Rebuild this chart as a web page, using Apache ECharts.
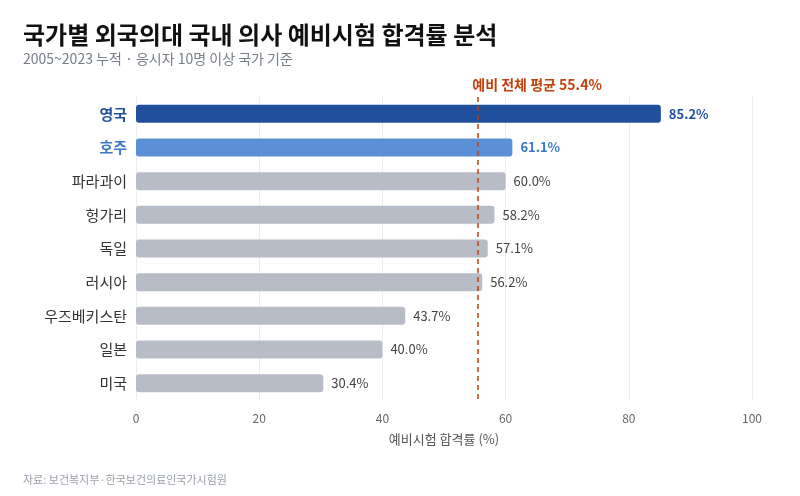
<!DOCTYPE html>
<html>
<head>
<meta charset="utf-8">
<script src="https://cdn.jsdelivr.net/npm/echarts@6/dist/echarts.min.js"></script>
<style>
  html, body { margin: 0; padding: 0; background: #fff; }
  #chart { width: 800px; height: 496px; }
</style>
</head>
<body>
<div id="chart"></div>
<script>
var countries = ['영국', '호주', '파라과이', '헝가리', '독일', '러시아', '우즈베키스탄', '일본', '미국'];
var passRates = [85.2, 61.1, 60.0, 58.2, 57.1, 56.2, 43.7, 40.0, 30.4];
var averageRate = 55.4;
var xTicks = [0, 20, 40, 60, 80, 100];

var font = '"Noto Sans CJK KR", "Noto Sans", sans-serif';

// highlight colours for the first two rows
var barColors = { '영국': '#1f4f9d', '호주': '#5b8fd6' };
var labelColors = { '영국': '#1f4f9d', '호주': '#3a78c9' };

var myChart = echarts.init(document.getElementById('chart'));

var option = {
  backgroundColor: '#fff',
  textStyle: { fontFamily: font },
  title: [
    {
      text: '국가별 외국의대 국내 의사 예비시험 합격률 분석',
      subtext: '2005~2023 누적 · 응시자 10명 이상 국가 기준',
      left: 18,
      top: 18,
      itemGap: 5,
      textStyle: { fontSize: 24, fontWeight: 'bold', color: '#111', fontFamily: font },
      subtextStyle: { fontSize: 14, color: '#777e8a', fontFamily: font }
    },
    {
      text: '자료: 보건복지부·한국보건의료인국가시험원',
      left: 18,
      top: 469,
      textStyle: { fontSize: 11, fontWeight: 'normal', color: '#9aa0aa', fontFamily: font }
    }
  ],
  grid: { left: 136, right: 48, top: 97, bottom: 96 },
  xAxis: {
    type: 'value',
    min: 0,
    max: 100,
    interval: 20,
    name: '예비시험 합격률 (%)',
    nameLocation: 'middle',
    nameGap: 33,
    nameTextStyle: { fontSize: 13, color: '#555', fontFamily: font },
    axisLine: { show: false },
    axisTick: { show: false },
    axisLabel: {
      fontSize: 12, color: '#666', margin: 12,
      formatter: function (v) { return xTicks.indexOf(v) >= 0 ? String(v) : ''; }
    },
    splitLine: { show: true, lineStyle: { color: '#ececec' } }
  },
  yAxis: {
    type: 'category',
    data: countries,
    inverse: true,
    axisLine: { show: false },
    axisTick: { show: false },
    axisLabel: {
      margin: 9,
      fontSize: 15,
      color: '#333',
      formatter: function (v) {
        if (v === '영국') return '{uk|' + v + '}';
        if (v === '호주') return '{au|' + v + '}';
        return v;
      },
      rich: {
        uk: { fontSize: 15, fontWeight: 'bold', color: '#1f4f9d', fontFamily: font },
        au: { fontSize: 15, fontWeight: 'bold', color: '#3a78c9', fontFamily: font }
      }
    }
  },
  series: [
    {
      type: 'bar',
      barWidth: 18,
      data: countries.map(function (c, i) {
        var hi = barColors[c];
        return {
          value: passRates[i],
          itemStyle: { color: hi || '#b8bcc6', borderRadius: 3 },
          label: {
            color: labelColors[c] || '#444',
            fontWeight: hi ? 'bold' : 'normal'
          }
        };
      }),
      label: {
        show: true,
        position: 'right',
        distance: 8,
        fontSize: 13,
        fontFamily: font,
        formatter: function (p) { return p.value.toFixed(1) + '%'; }
      },
      markLine: {
        silent: true,
        symbol: 'none',
        lineStyle: { color: '#c2410c', type: [5, 4], width: 1.5 },
        label: {
          show: true,
          position: 'start',
          align: 'left',
          offset: [-5, -1],
          distance: 4,
          color: '#c2410c',
          fontSize: 14,
          fontWeight: 'bold',
          fontFamily: font,
          formatter: '예비 전체 평균 ' + averageRate + '%'
        },
        data: [{ xAxis: averageRate }]
      }
    }
  ]
};

option && myChart.setOption(option);
</script>
</body>
</html>
